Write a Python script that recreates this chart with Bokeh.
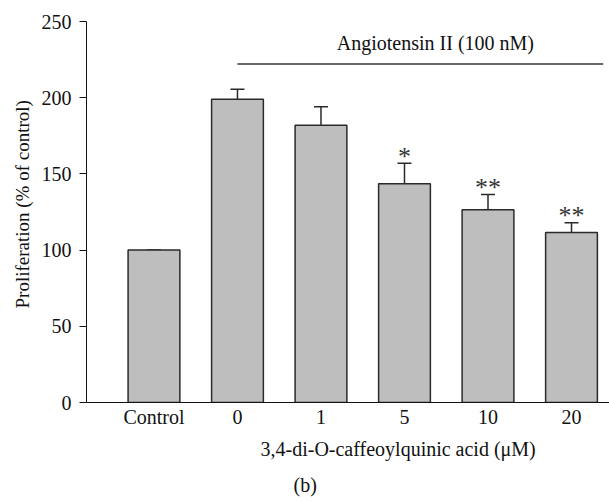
import math
from bokeh.plotting import figure
from bokeh.models import ColumnDataSource, Range1d, FixedTicker, Whisker, TeeHead, Label, Title
from bokeh.core.properties import value
from bokeh.embed import file_html
from bokeh.resources import INLINE

# ---- data ----
categories = ["Control", "0", "1", "5", "10", "20"]
proliferation = [100, 199, 182, 143.5, 126.5, 111.5]
sem = [0, 6.5, 12, 13.5, 10, 6.5]
stars = ["", "", "", "*", "**", "**"]
y_ticks = [0, 50, 100, 150, 200, 250]
y_title = "Proliferation (% of control)"
x_title = "3,4-di-O-caffeoylquinic acid (\u03bcM)"
bracket_label = "Angiotensin II (100 nM)"
panel_label = "(b)"

FONT = "Liberation Serif"
FS = "20px"
positions = list(range(len(categories)))
upper = [v + e for v, e in zip(proliferation, sem)]

src = ColumnDataSource(dict(x=positions, top=proliferation, upper=upper,
                            star=stars, star_y=[u + 4.5 for u in upper]))

p = figure(width=609, height=502, output_backend="svg", toolbar_location=None,
           x_range=Range1d(-0.808, 5.455), y_range=Range1d(0, 250),
           min_border_left=86, min_border_top=21, min_border_bottom=100, min_border_right=0)
p.outline_line_color = None
p.xgrid.visible = False
p.ygrid.visible = False
p.background_fill_color = "white"
p.border_fill_color = "white"

p.vbar(x="x", top="top", width=0.62, bottom=0, source=src,
       fill_color="#bebebe", line_color="#2a2a2a", line_width=1.5)

w = Whisker(source=src, base="x", lower="top", upper="upper",
            line_color="#2a2a2a", line_width=1.5,
            upper_head=TeeHead(size=14, line_color="#2a2a2a", line_width=1.5),
            lower_head=None)
p.add_layout(w)

p.text(x="x", y="star_y", text="star", source=src, text_align="center",
       text_baseline="alphabetic", text_font=value(FONT), text_font_size="26px",
       text_color="#333333")

# bracket line for Angiotensin II
p.segment(x0=[1.0], y0=[222.1], x1=[5.38], y1=[222.1], line_color="#333333", line_width=1.5)
p.add_layout(Label(x=3.37, y=235.6, text=bracket_label, text_align="center",
                   text_baseline="middle", text_font=FONT, text_font_size=FS,
                   text_color="#111111"))

# axes
p.yaxis.ticker = FixedTicker(ticks=y_ticks)
p.yaxis.major_tick_out = 7
p.yaxis.major_tick_in = 0
p.yaxis.minor_tick_line_color = None
p.yaxis.major_label_standoff = 8
p.yaxis.major_label_text_font = FONT
p.yaxis.major_label_text_font_size = FS
p.yaxis.major_label_text_color = "#111111"
p.yaxis.axis_line_color = "#111111"
p.yaxis.major_tick_line_color = "#111111"

p.xaxis.ticker = FixedTicker(ticks=positions)
p.xaxis.major_label_overrides = {i: c for i, c in zip(positions, categories)}
p.xaxis.major_tick_out = 0
p.xaxis.major_tick_in = 0
p.xaxis.major_tick_line_color = None
p.xaxis.minor_tick_line_color = None
p.xaxis.major_label_standoff = 3
p.xaxis.major_label_text_font = FONT
p.xaxis.major_label_text_font_size = FS
p.xaxis.major_label_text_color = "#111111"
p.xaxis.axis_line_color = "#111111"

# titles in side panels (not clipped by the frame)
yt = Title(text=y_title, align="left", offset=94, text_font=FONT,
           text_font_size="19px", text_font_style="normal", text_color="#111111", standoff=11)
p.add_layout(yt, "left")

xt = Title(text=x_title, align="left", offset=174, text_font=FONT,
           text_font_size=FS, text_font_style="normal", text_color="#111111", standoff=10)
p.add_layout(xt, "below")

bt = Title(text=panel_label, align="left", offset=207, text_font=FONT,
           text_font_size=FS, text_font_style="normal", text_color="#111111", standoff=14)
p.add_layout(bt, "below")

open("out.html", "w").write(file_html(p, INLINE))
